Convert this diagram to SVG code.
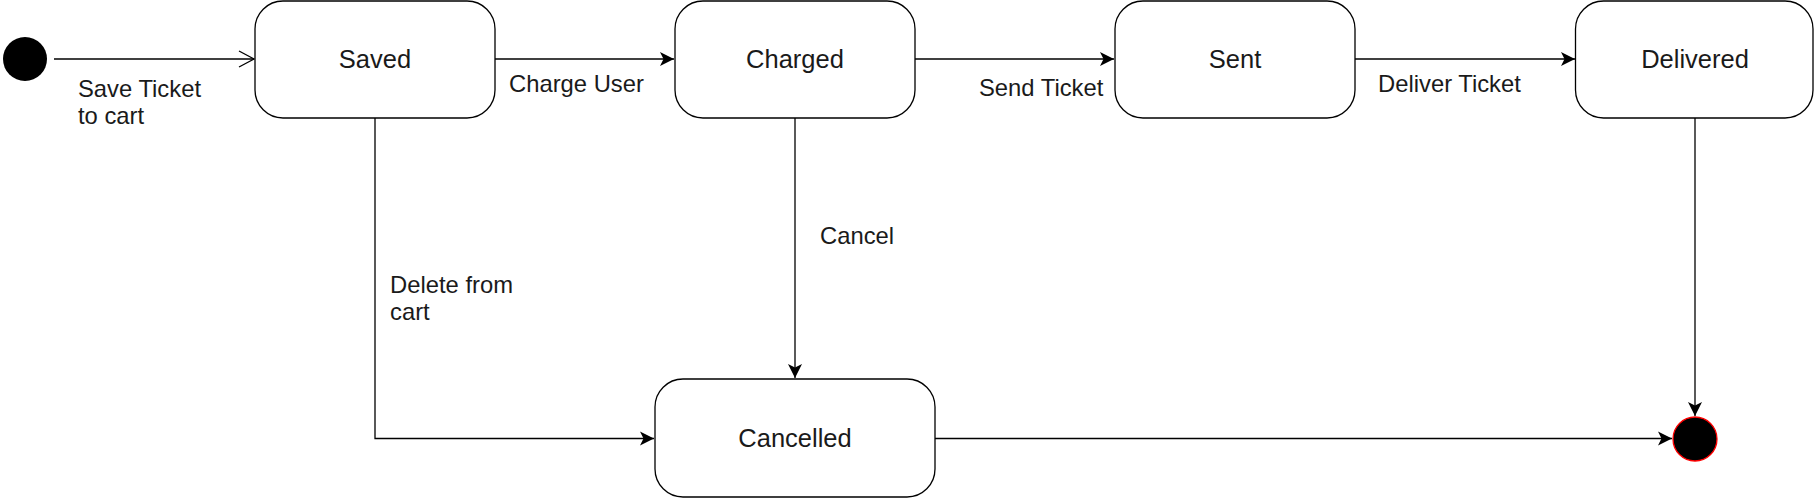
<svg xmlns="http://www.w3.org/2000/svg" width="1814" height="498" viewBox="0 0 1814 498">
<style>
.node rect{fill:#fff;stroke:#000;stroke-width:1.3}
.node text{font-family:"Liberation Sans",Arial,sans-serif;font-size:25.5px;fill:#1a1a1a;text-anchor:middle}
.lbl{font-family:"Liberation Sans",Arial,sans-serif;font-size:23.8px;fill:#1a1a1a}
.edge{fill:none;stroke:#000;stroke-width:1.3}
</style>
<defs>
<marker id="arr" markerUnits="userSpaceOnUse" markerWidth="16" markerHeight="16" refX="15" refY="8" orient="auto" viewBox="0 0 16 16">
<path d="M1,1 L15,8 L1,15 L4.5,8 Z" fill="#000"/>
</marker>
<marker id="open" markerUnits="userSpaceOnUse" markerWidth="20" markerHeight="20" refX="17" refY="10" orient="auto" viewBox="0 0 20 20">
<path d="M2,2 L17,10 L2,18" fill="none" stroke="#000" stroke-width="1.3"/>
</marker>
</defs>
<g id="connectors">
<line class="edge" x1="54" y1="59" x2="254" y2="59" marker-end="url(#open)"/>
<line class="edge" x1="495" y1="59" x2="674" y2="59" marker-end="url(#arr)"/>
<line class="edge" x1="915" y1="59" x2="1114" y2="59" marker-end="url(#arr)"/>
<line class="edge" x1="1355" y1="59" x2="1575" y2="59" marker-end="url(#arr)"/>
<polyline class="edge" points="375,118 375,438.5 654,438.5" marker-end="url(#arr)"/>
<line class="edge" x1="795" y1="118" x2="795" y2="378" marker-end="url(#arr)"/>
<line class="edge" x1="935" y1="438.5" x2="1672" y2="438.5" marker-end="url(#arr)"/>
<line class="edge" x1="1695" y1="118" x2="1695" y2="416" marker-end="url(#arr)"/>
<text class="lbl" x="78" y="97">Save Ticket</text>
<text class="lbl" x="78" y="124">to cart</text>
<text class="lbl" x="509" y="92">Charge User</text>
<text class="lbl" x="979" y="96">Send Ticket</text>
<text class="lbl" x="1378" y="92">Deliver Ticket</text>
<text class="lbl" x="820" y="244">Cancel</text>
<text class="lbl" x="390" y="293">Delete from</text>
<text class="lbl" x="390" y="320">cart</text>
</g>
<g id="initial">
<circle cx="25" cy="59" r="22" fill="#000"/>
</g>
<g id="saved" class="node">
<rect x="255" y="1" width="240" height="117" rx="28" ry="28"/>
<text x="375" y="68">Saved</text>
</g>
<g id="charged" class="node">
<rect x="675" y="1" width="240" height="117" rx="28" ry="28"/>
<text x="795" y="68">Charged</text>
</g>
<g id="sent" class="node">
<rect x="1115" y="1" width="240" height="117" rx="28" ry="28"/>
<text x="1235" y="68">Sent</text>
</g>
<g id="delivered" class="node">
<rect x="1575.5" y="1" width="237.5" height="117" rx="28" ry="28"/>
<text x="1695" y="68">Delivered</text>
</g>
<g id="cancelled" class="node">
<rect x="655" y="379" width="280" height="118" rx="28" ry="28"/>
<text x="795" y="447">Cancelled</text>
</g>
<g id="final">
<circle cx="1695" cy="439" r="22" fill="#000" stroke="#ff0000" stroke-width="1.3"/>
</g>
</svg>
